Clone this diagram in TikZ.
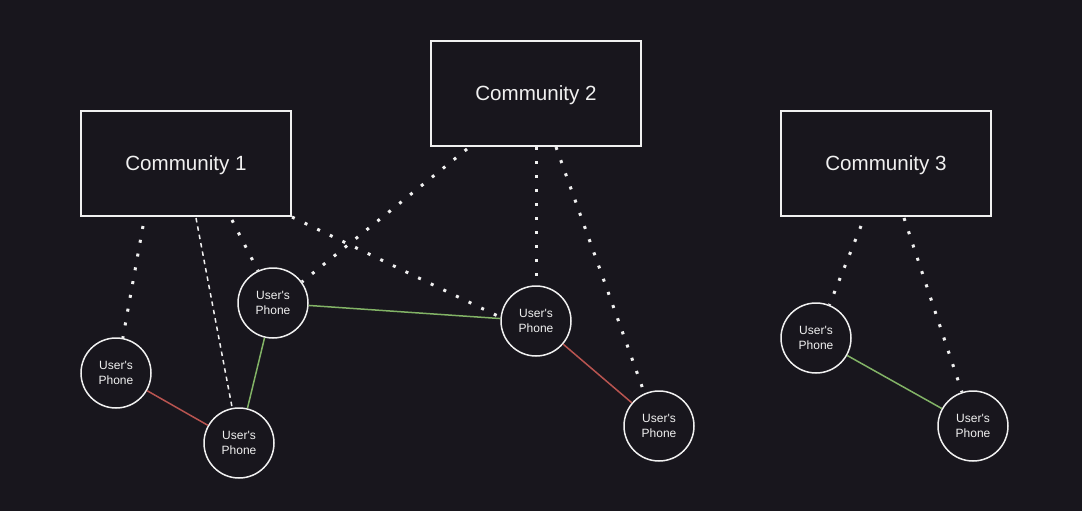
\documentclass[tikz,border=0pt]{standalone}
\usepackage{fontspec}
\setmainfont{Liberation Sans}

\definecolor{BackDark}{HTML}{18161D}
\definecolor{LineLight}{HTML}{F0F0F0}
\definecolor{LinkRed}{HTML}{B85450}
\definecolor{LinkGreen}{HTML}{82B366}

\tikzset{
  community/.style={draw=LineLight, fill=BackDark, line width=1.5, text=LineLight,
    minimum width=210, minimum height=105, inner sep=0, text height=14.5, text depth=0,
    font=\fontsize{20.6}{24}\selectfont},
  phone/.style={circle, draw=LineLight, fill=BackDark, line width=1.5, text=LineLight,
    minimum size=70, inner sep=0, align=center, font=\fontsize{12}{15}\selectfont},
  dotlink/.style={draw=LineLight, line width=3, dash pattern=on 3 off 11},
  dashlink/.style={draw=LineLight, line width=1.5, dash pattern=on 4.5 off 4},
  redlink/.style={draw=LinkRed, line width=1.5},
  greenlink/.style={draw=LinkGreen, line width=1.5}
}

\begin{document}
\begin{tikzpicture}[x=1pt, y=-1pt]

 % Background
 \fill[BackDark] (0,0) rectangle (1082,511);
 \useasboundingbox (0,0) rectangle (1082,511);

 %%%%%%%%%% Points de depart sur les boites %%%%%%%%%%
 \coordinate (s1a) at (143,226);
 \coordinate (s1b) at (196,218);
 \coordinate (s1c) at (232,220);
 \coordinate (s1d) at (292,217);
 \coordinate (s2c) at (467,149);
 \coordinate (s2d) at (536,147);
 \coordinate (s2e) at (556,147);
 \coordinate (s3f) at (861,226);
 \coordinate (s3g) at (904,218);

 % Phones
 \node[phone] (pA) at (116,373) {User\textquotesingle s\\Phone};
 \node[phone] (pB) at (239,443) {User\textquotesingle s\\Phone};
 \node[phone] (pC) at (273,303) {User\textquotesingle s\\Phone};
 \node[phone] (pD) at (536,321) {User\textquotesingle s\\Phone};
 \node[phone] (pE) at (659,426) {User\textquotesingle s\\Phone};
 \node[phone] (pF) at (816,338) {User\textquotesingle s\\Phone};
 \node[phone] (pG) at (973,426) {User\textquotesingle s\\Phone};

 % Links between phones
 \draw[redlink] (pA) -- (pB);
 \draw[greenlink] (pC) -- (pB);
 \draw[greenlink] (pC) -- (pD);
 \draw[redlink] (pD) -- (pE);
 \draw[greenlink] (pF) -- (pG);

 % Links to the communities
 \draw[dotlink] (s1a) -- (pA.79);
 \draw[dashlink] (s1b) -- (pB.101);
 \draw[dotlink] (s1c) -- (pC.115);
 \draw[dotlink] (s1d) -- (pD.174);
 \draw[dotlink] (s2c) -- (pC.36);
 \draw[dotlink] (s2d) -- (pD.90);
 \draw[dotlink] (s2e) -- (pE.114);
 \draw[dotlink] (s3f) -- (pF.68);
 \draw[dotlink] (s3g) -- (pG.108);

 % Communities
 \node[community] (c1) at (186,163.5) {Community 1};
 \node[community] (c2) at (536,93.5) {Community 2};
 \node[community] (c3) at (886,163.5) {Community 3};

\end{tikzpicture}
\end{document}
